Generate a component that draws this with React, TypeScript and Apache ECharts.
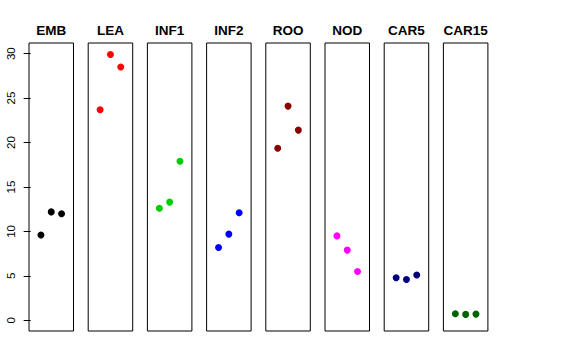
import React, { useEffect, useRef } from "react";
import * as echarts from "echarts";

const groups = ["EMB", "LEA", "INF1", "INF2", "ROO", "NOD", "CAR5", "CAR15"];
const colors = ["#000000", "#FF0000", "#00CD00", "#0000FF", "#8B0000", "#FF00FF", "#000080", "#006400"];
const values: number[][] = [
  [9.6, 12.2, 12.0],
  [23.7, 29.9, 28.5],
  [12.6, 13.3, 17.9],
  [8.2, 9.7, 12.1],
  [19.35, 24.1, 21.4],
  [9.5, 7.9, 5.5],
  [4.8, 4.6, 5.1],
  [0.74, 0.67, 0.7],
];
const yTicks = [0, 5, 10, 15, 20, 25, 30];

export default function App() {
  const ref = useRef<HTMLDivElement>(null);
  useEffect(() => {
    const chart = echarts.init(ref.current!, null, { renderer: "svg" });
    const left0 = 29;
    const step = 59.2;
    const w = 44.5;
    const top = 43;
    const h = 288;
    const grids: any[] = [];
    const xAxes: any[] = [];
    const yAxes: any[] = [];
    const series: any[] = [];
    const titles: any[] = [];
    groups.forEach((g, i) => {
      const left = left0 + i * step;
      grids.push({ left, top, width: w, height: h, show: true, borderColor: "#000", borderWidth: 1, backgroundColor: "transparent" });
      xAxes.push({ type: "value", gridIndex: i, min: -0.16, max: 4.16, show: false });
      yAxes.push({
        type: "value",
        gridIndex: i,
        min: -1.2,
        max: 31.2,
        show: i === 0,
        splitLine: { show: false },
        axisLine: { show: false },
        axisTick: { show: true, length: 7, customValues: yTicks, lineStyle: { color: "#000" } },
        axisLabel: {
          show: true,
          customValues: yTicks,
          rotate: 90,
          margin: 18,
          color: "#000",
          fontSize: 11.5,
          fontFamily: "Liberation Sans, Arial, sans-serif",
          verticalAlign: "middle",
          align: "center",
        },
      });
      series.push({
        type: "scatter",
        xAxisIndex: i,
        yAxisIndex: i,
        symbol: "circle",
        symbolSize: 7,
        itemStyle: { color: colors[i], opacity: 1 },
        data: values[i].map((v, j) => [j + 1, v]),
      });
      titles.push({
        type: "text",
        x: left + w / 2,
        y: 30,
        style: {
          text: g,
          align: "center",
          verticalAlign: "middle",
          fill: "#000",
          font: "bold 13.5px 'Liberation Sans', Arial, sans-serif",
        },
      });
    });
    chart.setOption({
      animation: false,
      backgroundColor: "#fff",
      graphic: titles,
      grid: grids,
      xAxis: xAxes,
      yAxis: yAxes,
      series,
    });
    return () => chart.dispose();
  }, []);
  return <div ref={ref} style={{ width: 576, height: 360, position: "absolute", left: 0, top: 0 }} />;
}
